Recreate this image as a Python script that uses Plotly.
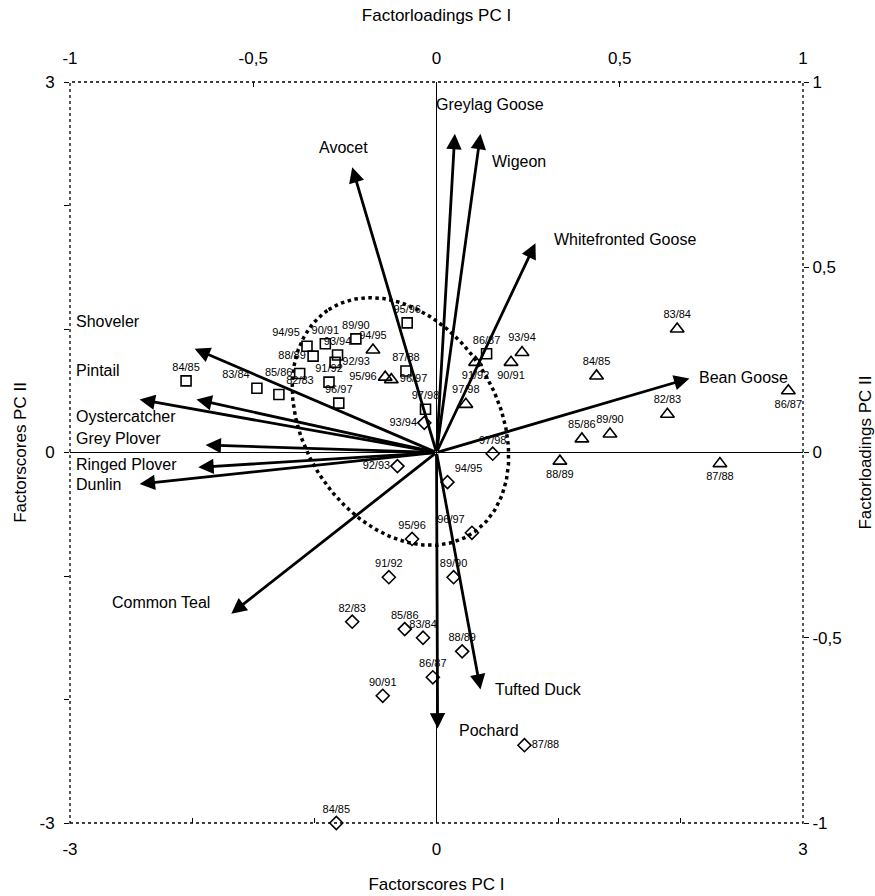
import numpy as np
import plotly.graph_objects as go

# ---- Factor scores (PC I, PC II) per season, three groups ----
sq_years = ["82/83", "83/84", "84/85", "85/86", "86/87", "87/88", "88/89", "89/90",
            "90/91", "91/92", "92/93", "93/94", "94/95", "95/96", "96/97", "97/98"]
sq_pc1 = [-1.29, -1.47, -2.05, -1.12, 0.41, -0.25, -1.01, -0.66,
          -0.91, -0.88, -0.83, -0.81, -1.06, -0.24, -0.80, -0.09]
sq_pc2 = [0.47, 0.52, 0.58, 0.64, 0.80, 0.66, 0.78, 0.92,
          0.88, 0.57, 0.73, 0.79, 0.86, 1.05, 0.40, 0.35]
sq_pos = ["top right", "top left", "top center", "middle left", "top center", "top center",
          "middle left", "top center", "top center", "top center", "middle right", "top center",
          "top left", "top center", "top center", "top center"]

tri_years = ["82/83", "83/84", "84/85", "85/86", "86/87", "87/88", "88/89", "89/90",
             "90/91", "91/92", "93/94", "94/95", "95/96", "96/97", "97/98"]
tri_pc1 = [1.89, 1.97, 1.31, 1.19, 2.88, 2.32, 1.01, 1.42,
           0.61, 0.32, 0.70, -0.52, -0.42, -0.37, 0.24]
tri_pc2 = [0.31, 1.00, 0.62, 0.11, 0.50, -0.09, -0.07, 0.15,
           0.73, 0.73, 0.81, 0.83, 0.61, 0.59, 0.39]
tri_pos = ["top center", "top center", "top center", "top center", "bottom center",
           "bottom center", "bottom center", "top center", "bottom center", "bottom center",
           "top center", "top center", "middle left", "middle right", "top center"]

dia_years = ["82/83", "83/84", "84/85", "85/86", "86/87", "87/88", "88/89", "89/90",
             "90/91", "91/92", "92/93", "93/94", "94/95", "95/96", "96/97", "97/98"]
dia_pc1 = [-0.69, -0.11, -0.82, -0.26, -0.03, 0.72, 0.21, 0.14,
           -0.44, -0.39, -0.32, -0.10, 0.09, -0.20, 0.29, 0.46]
dia_pc2 = [-1.37, -1.50, -3.00, -1.43, -1.82, -2.37, -1.61, -1.01,
           -1.97, -1.01, -0.11, 0.24, -0.24, -0.70, -0.65, -0.01]
dia_pos = ["top center", "top center", "top center", "top center", "top center",
           "middle right", "top center", "top center", "top center", "top center",
           "middle left", "middle left", "top right", "top center", "top left", "top center"]

# ---- Factor loadings (PC I, PC II) per species ----
species = ["Greylag Goose", "Wigeon", "Avocet", "Whitefronted Goose", "Bean Goose",
           "Shoveler", "Pintail", "Oystercatcher", "Grey Plover", "Ringed Plover",
           "Dunlin", "Common Teal", "Tufted Duck", "Pochard"]
load_pc1 = [0.05, 0.12, -0.23, 0.27, 0.69, -0.66, -0.81, -0.655, -0.63, -0.65,
            -0.81, -0.56, 0.12, 0.003]
load_pc2 = [0.86, 0.86, 0.77, 0.565, 0.20, 0.28, 0.143, 0.143, 0.02, -0.04,
            -0.085, -0.435, -0.64, -0.745]

# species label anchors (loading units) and horizontal anchoring
label_xy = [(0.145, 0.938), (0.145, 0.786), (-0.254, 0.822), (0.314, 0.576), (0.712, 0.203),
            (-0.988, 0.354), (-0.988, 0.222), (-0.988, 0.097), (-0.988, 0.038),
            (-0.988, -0.032), (-0.988, -0.086), (-0.892, -0.405), (0.153, -0.641),
            (0.057, -0.751)]
label_anchor = ["center", "left", "center", "left", "left", "left", "left", "left",
                "left", "left", "left", "left", "left", "left"]

FONT = "Liberation Sans, Arial, Helvetica, sans-serif"

fig = go.Figure()

# dotted ellipse around the central cluster of scores
ell_cx, ell_cy = -0.295, 0.251
ell_a, ell_b = 1.08, 0.79
ell_theta = np.deg2rad(33)
t = np.linspace(0, 2 * np.pi, 300)
ux, uy = -np.sin(ell_theta), np.cos(ell_theta)
vx, vy = np.cos(ell_theta), np.sin(ell_theta)
ex = ell_cx + ell_a * np.cos(t) * ux + ell_b * np.sin(t) * vx
ey = ell_cy + ell_a * np.cos(t) * uy + ell_b * np.sin(t) * vy
fig.add_trace(go.Scatter(x=ex, y=ey, mode="lines", hoverinfo="skip",
                         line=dict(color="black", width=3.5, dash="dot")))

def score_trace(xs, ys, years, pos, symbol, size):
    return go.Scatter(
        x=xs, y=ys, text=years, textposition=pos, mode="markers+text",
        marker=dict(symbol=symbol, size=size, color="black",
                    line=dict(color="black", width=1.6)),
        textfont=dict(family=FONT, size=11, color="black"),
        cliponaxis=False)

fig.add_trace(score_trace(sq_pc1, sq_pc2, sq_years, sq_pos, "square-open", 10))
fig.add_trace(score_trace(tri_pc1, tri_pc2, tri_years, tri_pos, "triangle-up-open", 12))
fig.add_trace(score_trace(dia_pc1, dia_pc2, dia_years, dia_pos, "diamond-open", 10))

# invisible trace so the loading axes (top/right) are rendered
fig.add_trace(go.Scatter(x=load_pc1, y=load_pc2, xaxis="x2", yaxis="y2",
                         mode="markers", marker=dict(opacity=0), hoverinfo="skip"))

annotations = []
for name, lx, ly, (tx, ty), anc in zip(species, load_pc1, load_pc2, label_xy, label_anchor):
    annotations.append(dict(
        x=lx, y=ly, ax=0, ay=0, xref="x2", yref="y2", axref="x2", ayref="y2",
        text="", showarrow=True, arrowhead=2, arrowsize=1.1, arrowwidth=2.8,
        arrowcolor="black", standoff=0))
    annotations.append(dict(
        x=tx, y=ty, xref="x2", yref="y2", text=name, showarrow=False,
        xanchor=anc, yanchor="middle",
        font=dict(family=FONT, size=16, color="black")))

tickfont = dict(family=FONT, size=17, color="black")
titlefont = dict(family=FONT, size=17, color="black")
score_ticks = [-3, -2, -1, 0, 1, 2, 3]
score_text = ["-3", "", "", "0", "", "", "3"]
load_ticks = [-1, -0.5, 0, 0.5, 1]
load_text = ["-1", "-0,5", "0", "0,5", "1"]

common = dict(showgrid=False, showline=False, tickcolor="black", ticklen=5,
              tickfont=tickfont, automargin=False)

fig.update_layout(
    width=875, height=896,
    margin=dict(l=70, r=72, t=82, b=73),
    plot_bgcolor="white", paper_bgcolor="white",
    showlegend=False,
    annotations=annotations,
    xaxis=dict(range=[-3, 3], tickvals=score_ticks, ticktext=score_text,
               ticks="inside", zeroline=True, zerolinecolor="black", zerolinewidth=1,
               ticklabelstandoff=14,
               title=dict(text="Factorscores PC I", font=titlefont, standoff=20), **common),
    yaxis=dict(range=[-3, 3], tickvals=score_ticks, ticktext=score_text,
               ticks="outside", zeroline=True, zerolinecolor="black", zerolinewidth=1,
               ticklabelstandoff=6,
               title=dict(text="Factorscores PC II", font=titlefont, standoff=8), **common),
    xaxis2=dict(range=[-1, 1], overlaying="x", side="top", tickvals=load_ticks,
                ticktext=load_text, ticks="inside", zeroline=False,
                ticklabelstandoff=14,
                title=dict(text="Factorloadings PC I", font=titlefont, standoff=22), **common),
    yaxis2=dict(range=[-1, 1], overlaying="y", side="right", tickvals=load_ticks,
                ticktext=load_text, ticks="outside", zeroline=False,
                title=dict(text="Factorloadings PC II", font=titlefont, standoff=22), **common),
    shapes=[dict(type="rect", xref="paper", yref="paper", x0=0, y0=0, x1=1, y1=1,
                 line=dict(color="black", width=1.3, dash="dot"), layer="below")],
)

fig.write_html("out.html")
